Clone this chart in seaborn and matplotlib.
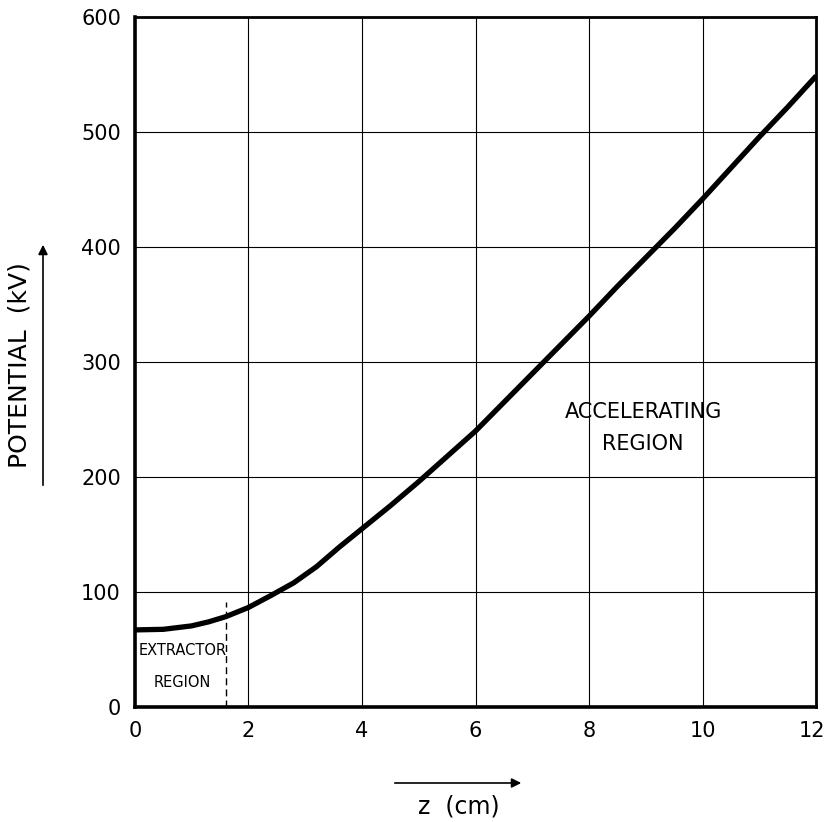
import numpy as np
import pandas as pd
import matplotlib
matplotlib.use("Agg")
import matplotlib.pyplot as plt
import matplotlib.transforms as mtransforms
import seaborn as sb

# potential along the axis
z_cm = [0, 0.5, 1, 1.3, 1.6, 2, 2.4, 2.8, 3.2, 3.6, 4, 4.5, 5, 5.5, 6, 6.5,
        7, 7.5, 8, 8.5, 9, 9.5, 10, 10.5, 11, 11.5, 12]
potential_kv = [67, 67.5, 70.5, 74, 78.5, 86.5, 97, 108, 122, 139, 155, 175, 196, 218,
                240, 265, 290, 315, 340, 366, 391, 416, 442, 469, 496, 522, 549]

x_ticks = [0, 2, 4, 6, 8, 10, 12]
y_ticks = [0, 100, 200, 300, 400, 500, 600]
extractor_edge = 1.6
extractor_top = 91

sb.set_theme(style="white")
plt.rcParams['font.family'] = ['DejaVu Sans']
plt.rcParams['text.color'] = 'black'

df = pd.DataFrame({"z": z_cm, "V": potential_kv})

fig = plt.figure(figsize=(8.27, 8.22), dpi=100)
ax = fig.add_axes([0.163, 0.140, 0.824, 0.839])

sb.lineplot(data=df, x="z", y="V", ax=ax, color="black", linewidth=3.8,
            solid_capstyle="butt", solid_joinstyle="round")

ax.set_xlim(0, 12)
ax.set_ylim(0, 600)
ax.set_xticks(x_ticks)
ax.set_yticks(y_ticks)
ax.grid(True, color="black", linewidth=0.8)
ax.tick_params(axis="both", direction="inout", length=8, width=1.5, colors="black",
               labelsize=15, pad=6)
for side in ["left", "bottom"]:
    ax.spines[side].set_linewidth(2.6)
for side in ["top", "right"]:
    ax.spines[side].set_linewidth(2.0)
for sp in ax.spines.values():
    sp.set_color("black")

ax.set_xlabel("")
ax.set_ylabel("")

# extractor boundary
ax.plot([extractor_edge, extractor_edge], [0, extractor_top], color="black",
        linewidth=1.0, linestyle=(0, (5, 3)))
ax.text(0.84, 49, "EXTRACTOR", ha="center", va="center", fontsize=10.5, color="black")
ax.text(0.84, 21, "REGION", ha="center", va="center", fontsize=10.5, color="black")

ax.text(8.95, 257, "ACCELERATING", ha="center", va="center", fontsize=15, color="black")
ax.text(8.95, 229, "REGION", ha="center", va="center", fontsize=15, color="black")

# axis labels with arrows, drawn in figure coords
fig.text(459 / 827, 1 - 806 / 822, "z  (cm)", ha="center", va="center", fontsize=17,
         color="black")
fig.add_artist(matplotlib.patches.FancyArrowPatch(
    (392 / 827, 1 - 783 / 822), (524 / 827, 1 - 783 / 822), transform=fig.transFigure,
    arrowstyle="-|>", mutation_scale=14, color="black", linewidth=1.2))

fig.text(20 / 827, 1 - 365 / 822, "POTENTIAL  (kV)", ha="center", va="center",
         rotation=90, fontsize=18, color="black")
fig.add_artist(matplotlib.patches.FancyArrowPatch(
    (43 / 827, 1 - 488 / 822), (43 / 827, 1 - 242 / 822), transform=fig.transFigure,
    arrowstyle="-|>", mutation_scale=14, color="black", linewidth=1.2))

# nudge the last x label so it stays inside the figure
fig.canvas.draw()
last = ax.xaxis.get_major_ticks()[-1].label1
last.set_transform(last.get_transform() + mtransforms.ScaledTranslation(-4 / 100, 0, fig.dpi_scale_trans))

fig.savefig("out.png", dpi=100)
plt.close(fig)
